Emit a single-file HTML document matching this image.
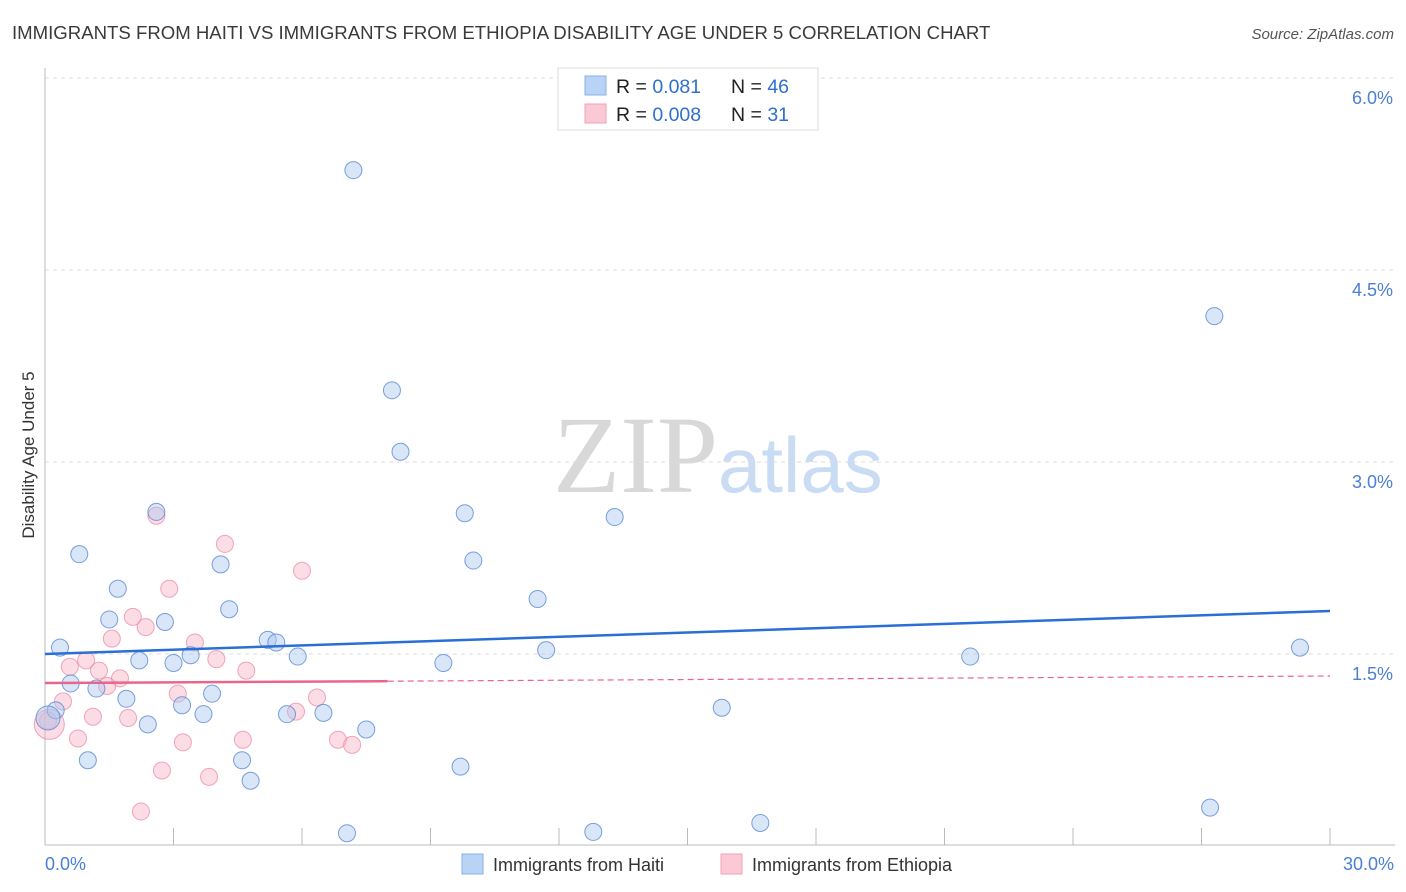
<!DOCTYPE html>
<html><head><meta charset="utf-8"><style>
body{margin:0;background:#fff;font-family:"Liberation Sans",sans-serif;}
svg{display:block}
</style></head><body>
<svg width="1406" height="892" xmlns="http://www.w3.org/2000/svg">
<text x="12" y="39" font-size="18.6" fill="#3a3a3a">IMMIGRANTS FROM HAITI VS IMMIGRANTS FROM ETHIOPIA DISABILITY AGE UNDER 5 CORRELATION CHART</text>
<text x="1394" y="39" font-size="15" fill="#555" font-style="italic" text-anchor="end">Source: ZipAtlas.com</text>
<text x="553" y="492" font-size="110" fill="#d8d8d8" font-family="Liberation Serif,serif">ZIP</text>
<text x="718" y="492" font-size="78" fill="#c9dcf3">atlas</text>
<g id="grid"></g>
<line x1="45" y1="68" x2="45" y2="845" stroke="#bbb"/>
<line x1="45" y1="845" x2="1395" y2="845" stroke="#bbb"/>
<g id="xticks"></g>
<text transform="translate(34,455) rotate(-90)" font-size="17" fill="#333" text-anchor="middle">Disability Age Under 5</text>
<text x="45" y="870" font-size="18" fill="#4a7fd4">0.0%</text>
<text x="1394" y="870" font-size="18" fill="#4a7fd4" text-anchor="end">30.0%</text>
<g id="pts"></g>
<g id="trends"></g>
<g>
<rect x="558" y="68" width="260" height="62" fill="#fff" stroke="#ddd"/>
<rect x="585" y="76" width="21" height="19" fill="#b8d3f5" stroke="#8ab0e6"/>
<rect x="585" y="104" width="21" height="19" fill="#fbc8d6" stroke="#f0a0b8"/>
<text x="616" y="93" font-size="19.5" fill="#222">R = <tspan fill="#2f6fd1"> 0.081</tspan><tspan x="731">N = </tspan><tspan fill="#2f6fd1">46</tspan></text>
<text x="616" y="121" font-size="19.5" fill="#222">R = <tspan fill="#2f6fd1">0.008</tspan><tspan x="731">N = </tspan><tspan fill="#2f6fd1"> 31</tspan></text>
</g>
<g>
<rect x="462" y="854" width="21" height="20" fill="#b8d3f5" stroke="#8ab0e6"/>
<text x="493" y="871" font-size="18" fill="#333">Immigrants from Haiti</text>
<rect x="721" y="854" width="21" height="20" fill="#fbc8d6" stroke="#f0a0b8"/>
<text x="752" y="871" font-size="18" fill="#333">Immigrants from Ethiopia</text>
</g>
</svg>
<script>
const yTicks=[1.5,3.0,4.5,6.0];
const yTickLabels=["1.5%","3.0%","4.5%","6.0%"];
const xTicks=[0,3,6,9,12,15,18,21,24,27,30];
const haitiX=[7.2,27.3,8.1,8.3,9.8,13.3,2.6,0.8,10.0,4.1,1.7,11.5,4.3,1.5,2.8,0.35,5.2,5.4,5.9,11.7,21.6,29.3,2.2,3.0,3.4,9.3,0.6,1.2,3.9,1.9,3.2,0.25,3.7,5.65,6.5,2.4,7.5,15.8,1.0,4.6,4.8,9.7,27.2,7.05,12.8,16.7,0.07];
const haitiY=[5.28,4.14,3.56,3.08,2.60,2.57,2.61,2.28,2.23,2.20,2.01,1.93,1.85,1.77,1.75,1.55,1.61,1.59,1.48,1.53,1.48,1.55,1.45,1.43,1.49,1.43,1.27,1.23,1.19,1.15,1.10,1.06,1.03,1.03,1.04,0.95,0.91,1.08,0.67,0.67,0.51,0.62,0.30,0.10,0.11,0.18,1.0];
const ethX=[2.6,4.2,6.0,2.9,2.05,1.56,2.35,3.5,0.96,4.0,0.58,1.26,1.75,1.45,4.7,3.1,0.42,6.35,5.86,1.12,1.94,0.07,0.77,3.22,4.62,6.84,7.17,2.73,3.83,2.24,0.1];
const ethY=[2.58,2.36,2.15,2.01,1.79,1.62,1.71,1.59,1.45,1.46,1.40,1.37,1.31,1.25,1.37,1.19,1.13,1.16,1.05,1.01,1.00,0.98,0.84,0.81,0.83,0.83,0.79,0.59,0.54,0.27,0.95];
const haitiTrend=[1.5,1.836];
const ethTrend=[1.273,1.328];
const ethSolidEnd=8;
const NS="http://www.w3.org/2000/svg";
const X=v=>45+v/30*1285, Y=v=>846-v*128;
function mk(t,a,p){const e=document.createElementNS(NS,t);for(const k in a)e.setAttribute(k,a[k]);p.appendChild(e);return e;}
const grid=document.getElementById('grid');
yTicks.forEach((v,i)=>{
 const l=mk('line',{x1:45,x2:1395,y1:Y(v),y2:Y(v),stroke:'#ddd','stroke-dasharray':'4,4'},grid);
 
 
 const t=mk('text',{x:1393,y:Y(v)+26,'font-size':18,fill:'#4a7fd4','text-anchor':'end'},grid);
 t.textContent=yTickLabels[i];
 
 
});
const xt=document.getElementById('xticks');
xTicks.forEach(v=>{
 const l=mk('line',{x1:X(v),x2:X(v),y1:828,y2:845,stroke:'#bbb'},xt);
 
 
});
const pts=document.getElementById('pts');
ethX.forEach((x,i)=>{
 const c=mk('circle',{cx:X(x),cy:Y(ethY[i]),r:i==ethX.length-1?15:8.5,fill:'rgba(248,180,200,0.45)',stroke:'rgba(235,130,160,0.7)','stroke-width':1},pts);
 
 
});
haitiX.forEach((x,i)=>{
 const c=mk('circle',{cx:X(x),cy:Y(haitiY[i]),r:i==haitiX.length-1?12:8.5,fill:'rgba(170,200,240,0.45)',stroke:'rgba(80,130,210,0.75)','stroke-width':1},pts);
 
 
});
const tr=document.getElementById('trends');
const hl=mk('line',{x1:X(0),y1:Y(haitiTrend[0]),x2:X(30),y2:Y(haitiTrend[1]),stroke:'#2a6fd6','stroke-width':2.5},tr);


const ey=v=>ethTrend[0]+(ethTrend[1]-ethTrend[0])*v/30;
const es=mk('line',{x1:X(0),y1:Y(ey(0)),x2:X(ethSolidEnd),y2:Y(ey(ethSolidEnd)),stroke:'#e8668c','stroke-width':2.5},tr);


const ed=mk('line',{x1:X(ethSolidEnd),y1:Y(ey(ethSolidEnd)),x2:X(30),y2:Y(ey(30)),stroke:'#e8668c','stroke-width':1.2,'stroke-dasharray':'6,4'},tr);


</script>
</body></html>
